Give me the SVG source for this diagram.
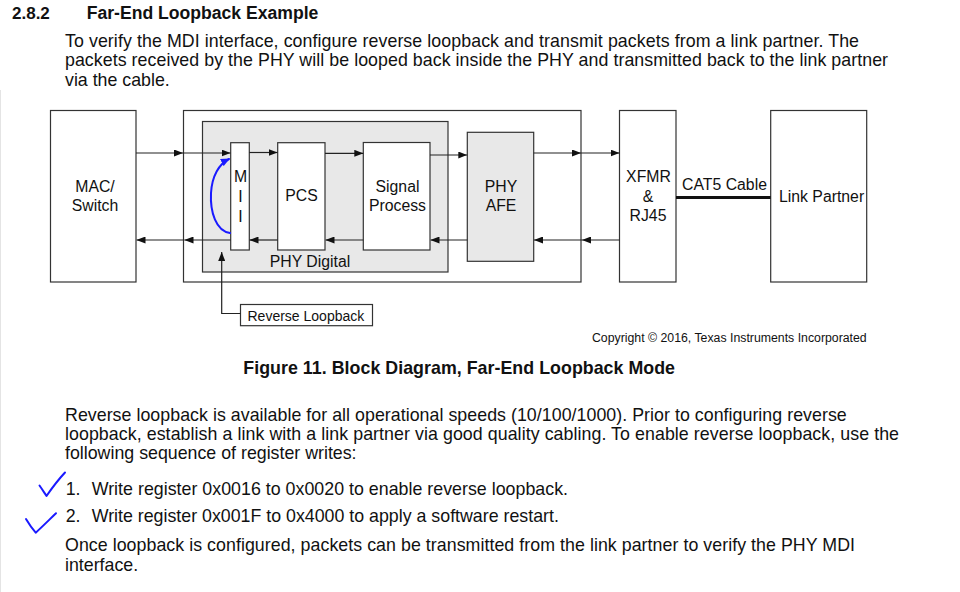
<svg xmlns="http://www.w3.org/2000/svg" width="960" height="592" viewBox="0 0 960 592">
<style>
  .t { font-family: "Liberation Sans", Arial, sans-serif; fill: #111; }
  .body { font-size: 17.8px; }
  .bold { font-weight: bold; }
  .lbl { font-size: 15.8px; text-anchor: middle; }
  .box { fill: #fff; stroke: #333; stroke-width: 1.2; }
  .gbox { fill: #e8e8e8; stroke: #333; stroke-width: 1.2; }
  .ln { stroke: #222; stroke-width: 1.2; fill: none; }
  .blue { stroke: #1a1aff; stroke-width: 2; fill: none; stroke-linecap: round; stroke-linejoin: round; }
</style>
<defs>
  <marker id="ah" markerWidth="9" markerHeight="7" refX="9" refY="3.5" orient="auto" markerUnits="userSpaceOnUse">
    <path d="M0,0 L9,3.5 L0,7 Z" fill="#111"/>
  </marker>
  <marker id="ahb" markerWidth="9" markerHeight="8" refX="8" refY="4" orient="auto" markerUnits="userSpaceOnUse">
    <path d="M0,0 L9,4 L0,8 Z" fill="#1a1aff"/>
  </marker>
</defs>
<rect width="960" height="592" fill="#fff"/>
<line x1="0.5" y1="90" x2="0.5" y2="592" stroke="#e4e4e4" stroke-width="1"/>

<!-- Header text -->
<g id="heading">
  <text class="t bold" x="12" y="18.5" font-size="17px">2.8.2</text>
  <text class="t bold" x="86.7" y="18.5" font-size="17.6px">Far-End Loopback Example</text>
</g>
<g id="intro">
  <text class="t body" x="65" y="46.7" textLength="794" lengthAdjust="spacing">To verify the MDI interface, configure reverse loopback and transmit packets from a link partner. The</text>
  <text class="t body" x="65" y="66" textLength="823" lengthAdjust="spacing">packets received by the PHY will be looped back inside the PHY and transmitted back to the link partner</text>
  <text class="t body" x="65" y="85.5">via the cable.</text>
</g>

<!-- Diagram nodes -->
<g id="phy-outer"><rect class="box" x="183.5" y="110.5" width="397.5" height="171.5"/></g>
<g id="phy-digital">
  <rect class="gbox" x="202.5" y="121.5" width="245.5" height="150.5"/>
  <text class="t lbl" x="310" y="266.7">PHY Digital</text>
</g>
<g id="mac-switch">
  <rect class="box" x="50.5" y="110.5" width="85.5" height="171.5"/>
  <text class="t lbl" x="95" y="192.3">MAC/</text>
  <text class="t lbl" x="95" y="210.7">Switch</text>
</g>
<g id="mii">
  <rect class="box" x="230.7" y="142.7" width="18.6" height="107.3"/>
  <text class="t lbl" x="240.5" y="182.3">M</text>
  <text class="t lbl" x="240.5" y="202">I</text>
  <text class="t lbl" x="240.5" y="221.5">I</text>
</g>
<g id="pcs">
  <rect class="box" x="277.7" y="142.7" width="47.3" height="107.3"/>
  <text class="t lbl" x="301.5" y="201">PCS</text>
</g>
<g id="signal-process">
  <rect class="box" x="363.3" y="142.5" width="66.7" height="107.5"/>
  <text class="t lbl" x="397.5" y="191.7">Signal</text>
  <text class="t lbl" x="397.5" y="210.7">Process</text>
</g>
<g id="phy-afe">
  <rect class="gbox" x="467.3" y="132.3" width="66.4" height="129"/>
  <text class="t lbl" x="501" y="192.3">PHY</text>
  <text class="t lbl" x="501" y="210.7">AFE</text>
</g>
<g id="xfmr">
  <rect class="box" x="619.5" y="110.5" width="56.5" height="171.5"/>
  <text class="t lbl" x="648.5" y="181.7">XFMR</text>
  <text class="t lbl" x="648" y="201.7">&amp;</text>
  <text class="t lbl" x="648" y="220.7">RJ45</text>
</g>
<g id="link-partner">
  <rect class="box" x="770.7" y="110.5" width="96" height="171.5"/>
  <text class="t" x="779" y="201.7" font-size="15.8px">Link Partner</text>
</g>
<g id="reverse-loopback">
  <rect class="box" x="240.5" y="304.5" width="132" height="21.2"/>
  <text class="t" x="247.5" y="321" font-size="14px">Reverse Loopback</text>
</g>

<!-- Connectors -->
<g id="connectors">
  <!-- transmit path (top) -->
  <line class="ln" x1="136" y1="153" x2="183" y2="153" marker-end="url(#ah)"/>
  <line class="ln" x1="183" y1="153" x2="230.5" y2="153" marker-end="url(#ah)"/>
  <line class="ln" x1="249.3" y1="152.5" x2="277.5" y2="152.5" marker-end="url(#ah)"/>
  <line class="ln" x1="325" y1="153.3" x2="363.3" y2="153.3" marker-end="url(#ah)"/>
  <line class="ln" x1="430" y1="155" x2="467.3" y2="155" marker-end="url(#ah)"/>
  <line class="ln" x1="533.7" y1="153" x2="581" y2="153" marker-end="url(#ah)"/>
  <line class="ln" x1="581" y1="153" x2="619.5" y2="153" marker-end="url(#ah)"/>
  <!-- receive path (bottom) -->
  <line class="ln" x1="619.5" y1="240" x2="582" y2="240" marker-end="url(#ah)"/>
  <line class="ln" x1="582" y1="240" x2="534" y2="240" marker-end="url(#ah)"/>
  <line class="ln" x1="467.3" y1="240" x2="430.5" y2="240" marker-end="url(#ah)"/>
  <line class="ln" x1="363.3" y1="240" x2="325.5" y2="240" marker-end="url(#ah)"/>
  <line class="ln" x1="277.7" y1="240" x2="249.5" y2="240" marker-end="url(#ah)"/>
  <line class="ln" x1="230.7" y1="240" x2="184.5" y2="240" marker-end="url(#ah)"/>
  <line class="ln" x1="184.5" y1="240" x2="136.5" y2="240" marker-end="url(#ah)"/>
  <!-- CAT5 cable -->
  <line x1="676" y1="197.5" x2="770.7" y2="197.5" stroke="#111" stroke-width="3"/>
  <text class="t lbl" x="724.5" y="190">CAT5 Cable</text>
  <!-- reverse loopback control -->
  <polyline class="ln" points="240.5,313.5 221.7,313.5 221.7,252" marker-end="url(#ah)"/>
  <!-- blue loop -->
  <path class="blue" d="M230,233 C216,231 210,212 211,193 C212,176 219,164 229,159" marker-end="url(#ahb)"/>
</g>

<!-- Caption -->
<g id="caption">
  <text class="t" x="866.7" y="342" font-size="12.3px" text-anchor="end">Copyright © 2016, Texas Instruments Incorporated</text>
  <text class="t bold" x="243.3" y="373.7" font-size="17.8px" textLength="431.7" lengthAdjust="spacing">Figure 11. Block Diagram, Far-End Loopback Mode</text>
</g>

<!-- Body paragraphs -->
<g id="para2">
  <text class="t body" x="65" y="420.7" textLength="781.7" lengthAdjust="spacing">Reverse loopback is available for all operational speeds (10/100/1000). Prior to configuring reverse</text>
  <text class="t body" x="65" y="440" textLength="834" lengthAdjust="spacing">loopback, establish a link with a link partner via good quality cabling. To enable reverse loopback, use the</text>
  <text class="t body" x="65" y="458.5">following sequence of register writes:</text>
</g>
<g id="list">
  <text class="t body" x="65.7" y="495">1.</text>
  <text class="t body" x="91.7" y="495" textLength="476.3" lengthAdjust="spacing">Write register 0x0016 to 0x0020 to enable reverse loopback.</text>
  <text class="t body" x="65.7" y="521.5">2.</text>
  <text class="t body" x="91.7" y="521.5">Write register 0x001F to 0x4000 to apply a software restart.</text>
</g>
<g id="para3">
  <text class="t body" x="65" y="551" textLength="790" lengthAdjust="spacing">Once loopback is configured, packets can be transmitted from the link partner to verify the PHY MDI</text>
  <text class="t body" x="65" y="570.7">interface.</text>
</g>

<!-- Hand-drawn check marks -->
<g id="checkmarks">
  <path class="blue" stroke-width="1.6" d="M39.5,485.5 C42,489 44.5,493 46.5,496 C52,488 58,480 65,472.5"/>
  <path class="blue" stroke-width="1.6" d="M26,519 C29,524 32.5,529 35.7,532.7 C42,527 49,520 56,513.3"/>
</g>
</svg>
